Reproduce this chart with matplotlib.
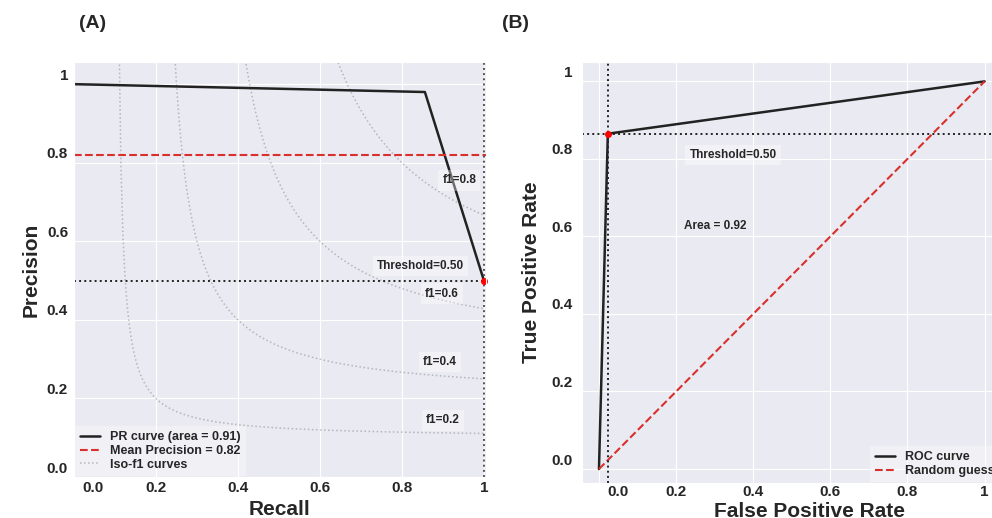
import matplotlib
matplotlib.use('Agg')
import matplotlib.pyplot as plt
import matplotlib.transforms as mtrans
import numpy as np
import seaborn as sns

# (A) precision-recall curve
recall = [0.0, 0.856, 1.0]
precision = [1.0, 0.98, 0.5]
pr_area = 0.91
mean_precision = 0.82
pr_threshold = (1.0, 0.5)
f1_levels = [0.2, 0.4, 0.6, 0.8]
f1_label_pos = [(0.90, 0.144), (0.893, 0.292), (0.897, 0.467), (0.94, 0.755)]

# (B) ROC curve
fpr = [0.0, 0.023, 1.0]
tpr = [0.0, 0.865, 1.0]
roc_area = 0.92
roc_threshold = (0.023, 0.865)

tick_vals = [0.0, 0.2, 0.4, 0.6, 0.8, 1.0]
tick_labels = ['0.0', '0.2', '0.4', '0.6', '0.8', '1']

sns.set_style('darkgrid')
plt.rcParams['font.family'] = ['Liberation Sans', 'DejaVu Sans']

fig = plt.figure(figsize=(9.92, 5.18), dpi=100)
ax1 = fig.add_axes([0.0746, 0.079, 0.4153, 0.801])
ax2 = fig.add_axes([0.5867, 0.0676, 0.4214, 0.8127])

box = dict(boxstyle='square,pad=0.35', facecolor='white', alpha=0.35, edgecolor='none')


def style_axis(ax, xlabel, ylabel, xpad, ypad):
    ax.set_xticks(tick_vals)
    ax.set_xticklabels(tick_labels)
    ax.set_yticks(tick_vals)
    ax.set_yticklabels(tick_labels)
    ax.tick_params(axis='both', labelsize=11, length=0)
    ax.tick_params(axis='x', pad=xpad)
    ax.tick_params(axis='y', pad=ypad)
    for lab in ax.get_xticklabels() + ax.get_yticklabels():
        lab.set_fontweight('bold')
    # labels sit a bit above their gridlines in the original
    up = mtrans.ScaledTranslation(0, 0.10, fig.dpi_scale_trans)
    for lab in ax.get_yticklabels():
        lab.set_transform(lab.get_transform() + up)
    right = mtrans.ScaledTranslation(0.19, 0, fig.dpi_scale_trans)
    first = ax.get_xticklabels()[0]
    first.set_transform(first.get_transform() + right)
    ax.set_xlabel(xlabel, fontsize=15, fontweight='bold')
    ax.set_ylabel(ylabel, fontsize=15, fontweight='bold')


# ---- panel A
for f, (tx, ty) in zip(f1_levels, f1_label_pos):
    x = np.linspace(0.01, 1, 200)
    y = f * x / (2 * x - f)
    ok = (y >= 0) & (y <= 1.2)
    iso, = ax1.plot(x[ok], y[ok], color='gray', alpha=0.5, lw=1.1, ls=':')
    ax1.text(tx, ty, 'f1={0:0.1f}'.format(f), fontsize=8.5, fontweight='bold',
             ha='center', va='center', bbox=box)

pr_line, = ax1.plot(recall, precision, color='#222222', lw=1.8)
mp_line = ax1.axhline(mean_precision, color='#d9302c', ls='--', lw=1.5)
ax1.axhline(pr_threshold[1], color='#222222', ls=':', lw=1.4)
ax1.axvline(pr_threshold[0], color='#555555', ls=':', lw=1.4)
ax1.plot([pr_threshold[0]], [pr_threshold[1]], 'o', color='red', ms=4, clip_on=False)
ax1.text(0.846, 0.538, 'Threshold=0.50', fontsize=8.5, fontweight='bold',
         ha='center', va='center', bbox=box)
ax1.set_xlim(0, 1.005)
ax1.set_ylim(0, 1.056)
style_axis(ax1, 'Recall', 'Precision', 3, 4.3)
ax1.xaxis.set_label_coords(0.5, -0.055)
ax1.yaxis.set_label_coords(-0.082, 0.5)
leg1 = ax1.legend([pr_line, mp_line, iso],
                  ['PR curve (area = %0.2f)' % pr_area,
                   'Mean Precision = %0.2f' % mean_precision,
                   'Iso-f1 curves'],
                  loc='lower left', prop={'weight': 'bold', 'size': 9},
                  handlelength=1.6, labelspacing=0.15, borderaxespad=0.1,
                  frameon=True, fancybox=False)
leg1.get_frame().set_facecolor('white')
leg1.get_frame().set_alpha(0.3)
leg1.get_frame().set_edgecolor('none')

# ---- panel B
roc_line, = ax2.plot(fpr, tpr, color='#222222', lw=1.8)
rnd_line, = ax2.plot([0, 1], [0, 1], color='#d9302c', ls='--', lw=1.5)
ax2.axhline(roc_threshold[1], color='#222222', ls=':', lw=1.4)
ax2.axvline(roc_threshold[0], color='#222222', ls=':', lw=1.4)
ax2.plot([roc_threshold[0]], [roc_threshold[1]], 'o', color='red', ms=4)
ax2.text(0.348, 0.81, 'Threshold=0.50', fontsize=8.5, fontweight='bold',
         ha='center', va='center', bbox=box)
ax2.text(0.301, 0.627, 'Area = %0.2f' % roc_area, fontsize=8.5, fontweight='bold',
         ha='center', va='center')
ax2.set_xlim(-0.044, 1.04)
ax2.set_ylim(-0.036, 1.05)
style_axis(ax2, 'False Positive Rate', 'True Positive Rate', 1.5, 6.5)
ax2.xaxis.set_label_coords(0.545, -0.045)
ax2.yaxis.set_label_coords(-0.098, 0.5)
leg2 = ax2.legend([roc_line, rnd_line], ['ROC curve', 'Random guess'],
                  loc='lower right', prop={'weight': 'bold', 'size': 9},
                  handlelength=1.6, labelspacing=0.15, borderaxespad=0.05,
                  frameon=True, fancybox=False)
leg2.get_frame().set_facecolor('white')
leg2.get_frame().set_alpha(0.3)
leg2.get_frame().set_edgecolor('none')

fig.text(0.093, 0.955, '(A)', fontsize=14, fontweight='bold', ha='center', va='center')
fig.text(0.52, 0.955, '(B)', fontsize=14, fontweight='bold', ha='center', va='center')

plt.savefig('out.png', dpi=100)
